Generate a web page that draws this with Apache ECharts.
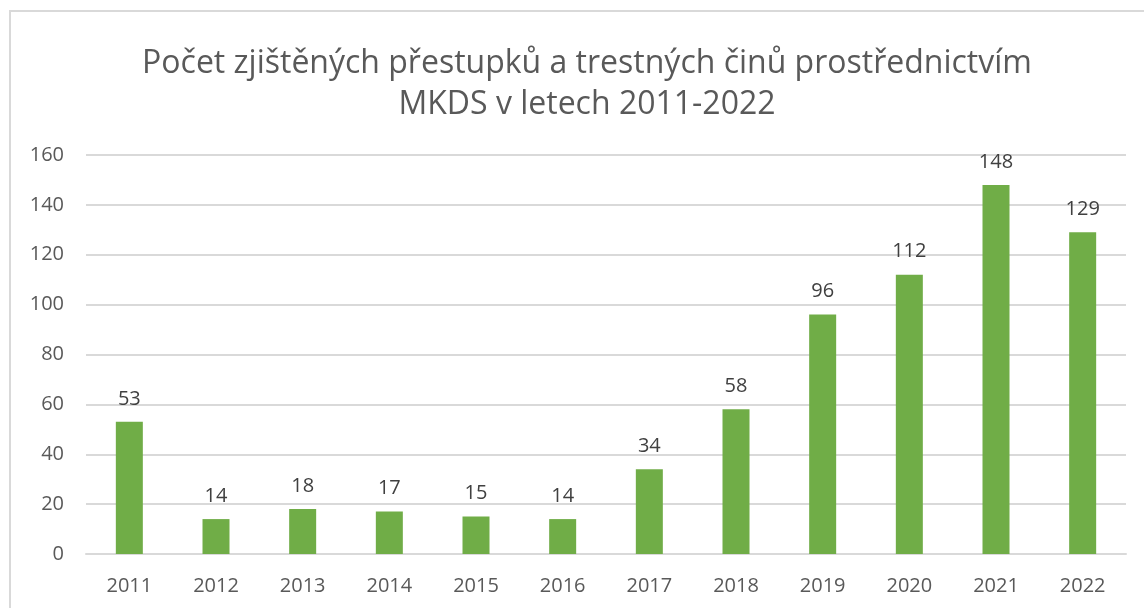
<!DOCTYPE html>
<html>
<head>
  <meta charset="utf-8">
  <title>MKDS</title>
  <script src="https://cdn.jsdelivr.net/npm/echarts@6/dist/echarts.min.js"></script>
  <style>
    html, body { margin: 0; padding: 0; background: #fff; }
    #main { position: absolute; left: 9px; top: 10px; width: 1150px; height: 610px;
            border: 2px solid #d9d9d9; box-sizing: border-box; }
  </style>
</head>
<body>
  <div id="main"></div>
  <script type="text/javascript">
    // data
    var years = ['2011', '2012', '2013', '2014', '2015', '2016', '2017', '2018', '2019', '2020', '2021', '2022'];
    var counts = [53, 14, 18, 17, 15, 14, 34, 58, 96, 112, 148, 129];
    var yTicks = [0, 20, 40, 60, 80, 100, 120, 140, 160];

    var myChart = echarts.init(document.getElementById('main'));
    var font = 'Open Sans, Noto Sans, sans-serif';

    var option = {
      animation: false,
      title: {
        text: 'Počet zjištěných přestupků a trestných činů prostřednictvím\nMKDS v letech 2011-2022',
        left: 571,
        top: 26,
        textAlign: 'center',
        textStyle: { fontFamily: font, fontSize: 32, fontWeight: 'normal', color: '#595959', lineHeight: 41 }
      },
      grid: { left: 75, right: 31, top: 143, bottom: 64 },
      xAxis: {
        type: 'category',
        data: years,
        axisLine: { lineStyle: { color: '#d9d9d9', width: 2 } },
        axisTick: { show: false },
        axisLabel: { fontFamily: font, fontSize: 20, color: '#595959', margin: 22 }
      },
      yAxis: {
        type: 'value',
        min: yTicks[0],
        max: yTicks[yTicks.length - 1],
        interval: 20,
        axisLine: { show: false },
        axisTick: { show: false },
        splitLine: { lineStyle: { color: '#d9d9d9', width: 2 } },
        axisLabel: { fontFamily: font, fontSize: 20, color: '#595959', margin: 22 }
      },
      series: [{
        type: 'bar',
        data: counts,
        barWidth: 27,
        itemStyle: { color: '#70ad47' },
        label: { show: true, position: 'top', distance: 13, fontFamily: font, fontSize: 20, color: '#404040' }
      }]
    };

    myChart.setOption(option);
  </script>
</body>
</html>
